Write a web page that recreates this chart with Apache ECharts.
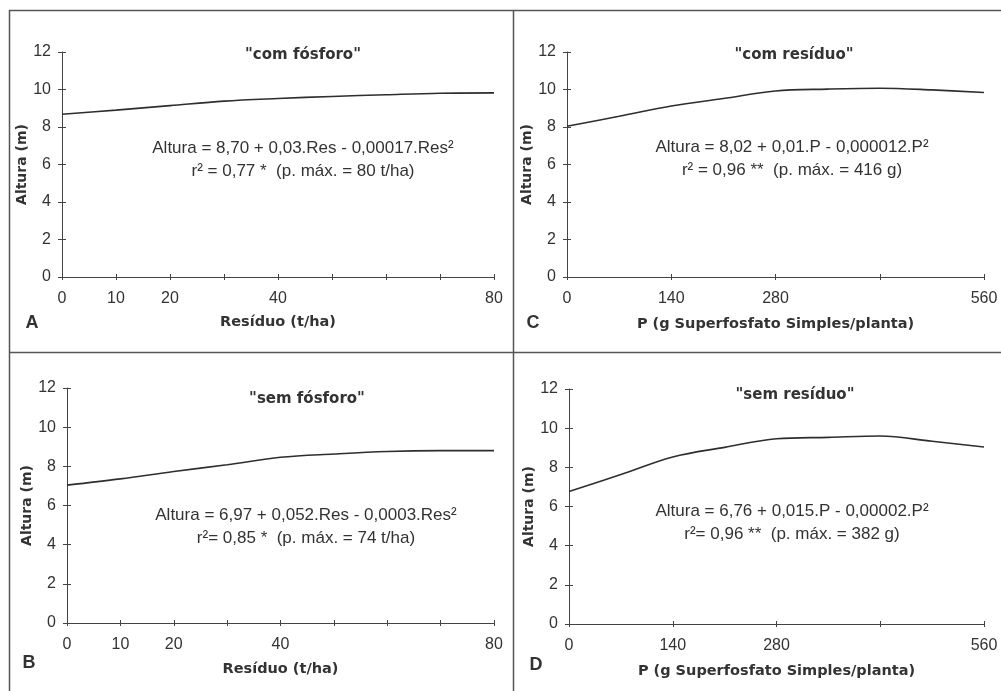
<!DOCTYPE html>
<html>
<head>
<meta charset="utf-8">
<title>Altura x Resíduo / P</title>
<script src="https://cdn.jsdelivr.net/npm/echarts@6/dist/echarts.min.js"></script>
<style>
  html, body { margin: 0; padding: 0; background: #fff; }
  #chart { width: 1001px; height: 691px; }
</style>
</head>
<body>
<div id="chart"></div>
<script>
// dados
const resX = [0, 10, 20, 30, 40, 50, 60, 70, 80];
const alturaComFosforo = [8.68, 8.9, 9.14, 9.38, 9.52, 9.63, 9.72, 9.8, 9.82];
const alturaSemFosforo = [7.04, 7.36, 7.74, 8.08, 8.46, 8.63, 8.76, 8.8, 8.8];

const pX = [0, 70, 140, 210, 280, 350, 420, 490, 560];
const alturaComResiduo = [8.04, 8.57, 9.12, 9.52, 9.92, 10.02, 10.07, 9.98, 9.84];
const alturaSemResiduo = [6.77, 7.63, 8.53, 9.02, 9.46, 9.53, 9.6, 9.33, 9.04];

const resTickLabels = [0, 10, 20, 40, 80];
const pTickLabels = [0, 140, 280, 560];
const yTicks = [0, 2, 4, 6, 8, 10, 12];

const panelTitles = ['"com fósforo"', '"com resíduo"', '"sem fósforo"', '"sem resíduo"'];
const panelLetters = ['A', 'C', 'B', 'D'];
const equations = [
  ['Altura = 8,70 + 0,03.Res - 0,00017.Res²', 'r² = 0,77 *  (p. máx. = 80 t/ha)'],
  ['Altura = 8,02 + 0,01.P - 0,000012.P²', 'r² = 0,96 **  (p. máx. = 416 g)'],
  ['Altura = 6,97 + 0,052.Res - 0,0003.Res²', 'r²= 0,85 *  (p. máx. = 74 t/ha)'],
  ['Altura = 6,76 + 0,015.P - 0,00002.P²', 'r²= 0,96 **  (p. máx. = 382 g)']
];

const ink = '#333';
const sans = '"Liberation Sans", Arial, sans-serif';
const boldFont = '"DejaVu Sans", sans-serif';

// layout de cada painel (A, C, B, D)
const panels = [
  { grid: { left: 62, top: 52, width: 432, height: 225 }, xs: resX, ys: alturaComFosforo, xmax: 80, step: 10, labels: resTickLabels,
    xName: 'Resíduo (t/ha)', xGap: 38, yGap: 25, title: [303, 55], eq: [303, 148], letter: [32, 323] },
  { grid: { left: 567, top: 52, width: 417, height: 225 }, xs: pX, ys: alturaComResiduo, xmax: 560, step: 140, labels: pTickLabels,
    xName: 'P (g Superfosfato Simples/planta)', xGap: 40, yGap: 30, title: [794, 55], eq: [792, 147], letter: [533, 323] },
  { grid: { left: 67, top: 388, width: 427, height: 235 }, xs: resX, ys: alturaSemFosforo, xmax: 80, step: 10, labels: resTickLabels,
    xName: 'Resíduo (t/ha)', xGap: 39, yGap: 29, title: [307, 399], eq: [306, 515], letter: [29, 663] },
  { grid: { left: 569, top: 389, width: 415, height: 235 }, xs: pX, ys: alturaSemResiduo, xmax: 560, step: 140, labels: pTickLabels,
    xName: 'P (g Superfosfato Simples/planta)', xGap: 40, yGap: 29, title: [795, 395], eq: [792, 511], letter: [536, 665] }
];

const chart = echarts.init(document.getElementById('chart'), null, { renderer: 'canvas' });

const grids = [], xAxes = [], yAxes = [], series = [], graphics = [];

panels.forEach((p, i) => {
  grids.push(p.grid);

  // eixo principal (com rótulos, ticks para fora)
  xAxes.push({
    type: 'value', gridIndex: i, position: 'bottom', min: 0, max: p.xmax, interval: p.step,
    name: p.xName, nameLocation: 'middle', nameGap: p.xGap,
    nameTextStyle: { fontFamily: boldFont, fontWeight: 'bold', fontSize: 14.5, color: ink },
    axisLine: { lineStyle: { color: '#444', width: 1 } },
    axisTick: { length: 3, lineStyle: { color: '#444' } },
    axisLabel: {
      margin: 14, fontFamily: sans, fontSize: 16, color: ink,
      showMinLabel: true, showMaxLabel: true,
      formatter: v => (p.labels.indexOf(v) >= 0 ? String(v) : '')
    },
    splitLine: { show: false }
  });
  yAxes.push({
    type: 'value', gridIndex: i, position: 'left', min: 0, max: 12, interval: 2,
    name: 'Altura (m)', nameLocation: 'middle', nameGap: p.yGap, nameRotate: 90,
    nameTextStyle: { fontFamily: boldFont, fontWeight: 'bold', fontSize: 14, color: ink },
    axisLine: { show: true, lineStyle: { color: '#444', width: 1 } },
    axisTick: { show: true, length: 4, lineStyle: { color: '#444' } },
    axisLabel: {
      margin: 11, fontFamily: sans, fontSize: 16, color: ink,
      formatter: v => (yTicks.indexOf(v) >= 0 ? String(v) : '')
    },
    splitLine: { show: false }
  });

  series.push({
    type: 'line', xAxisIndex: i, yAxisIndex: i,
    data: p.xs.map((x, k) => [x, p.ys[k]]),
    smooth: 0.35, symbol: 'none',
    lineStyle: { color: '#2e2e2e', width: 1.6 },
    silent: true, animation: false
  });

  graphics.push({
    type: 'text',
    style: { text: panelTitles[i], x: p.title[0], y: p.title[1], align: 'center', verticalAlign: 'middle',
      font: 'bold 15px ' + boldFont, fill: ink }
  });
  graphics.push({
    type: 'text',
    style: { text: equations[i][0], x: p.eq[0], y: p.eq[1], align: 'center', verticalAlign: 'middle',
      font: '17px ' + sans, fill: ink }
  });
  graphics.push({
    type: 'text',
    style: { text: equations[i][1], x: p.eq[0], y: p.eq[1] + 23, align: 'center', verticalAlign: 'middle',
      font: '17px ' + sans, fill: ink }
  });
  graphics.push({
    type: 'text',
    style: { text: panelLetters[i], x: p.letter[0], y: p.letter[1], align: 'center', verticalAlign: 'middle',
      font: 'bold 18px ' + sans, fill: ink }
  });
});

// segundo conjunto de eixos só para os ticks que cruzam a linha do eixo
panels.forEach((p, i) => {
  xAxes.push({
    type: 'value', gridIndex: i, position: 'bottom', min: 0, max: p.xmax, interval: p.step,
    axisLine: { show: false }, axisLabel: { show: false }, splitLine: { show: false },
    axisTick: { show: true, inside: true, length: 3, lineStyle: { color: '#444' } }
  });
  yAxes.push({
    type: 'value', gridIndex: i, position: 'left', min: 0, max: 12, interval: 2,
    axisLine: { show: false }, axisLabel: { show: false }, splitLine: { show: false },
    axisTick: { show: true, inside: true, length: 4, lineStyle: { color: '#444' } }
  });
});

// moldura dos quatro painéis
const frame = { stroke: '#555', lineWidth: 1.5 };
graphics.push({ type: 'line', shape: { x1: 9.5, y1: 10, x2: 9.5, y2: 691 }, style: frame });
graphics.push({ type: 'line', shape: { x1: 9, y1: 10.5, x2: 1001, y2: 10.5 }, style: frame });
graphics.push({ type: 'line', shape: { x1: 513.5, y1: 10, x2: 513.5, y2: 691 }, style: frame });
graphics.push({ type: 'line', shape: { x1: 9, y1: 352.5, x2: 1001, y2: 352.5 }, style: frame });

chart.setOption({
  backgroundColor: '#ffffff',
  animation: false,
  grid: grids,
  xAxis: xAxes,
  yAxis: yAxes,
  series: series,
  graphic: graphics
});
</script>
</body>
</html>
